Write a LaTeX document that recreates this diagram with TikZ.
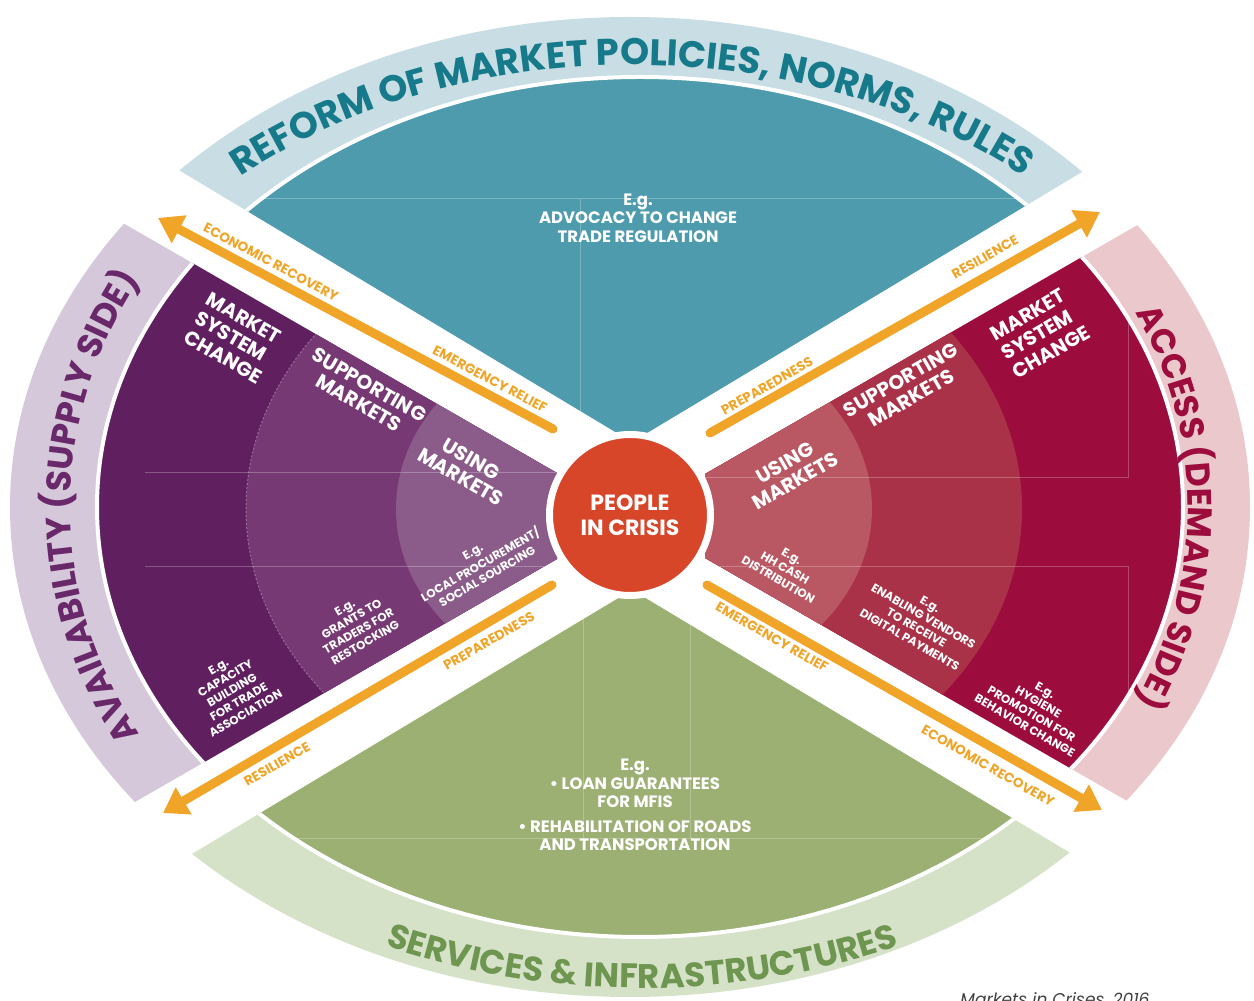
\documentclass[tikz,border=0pt]{standalone}
\usepackage{fontspec}
\setmainfont{Poppins}
\usetikzlibrary{arrows.meta,decorations.text}
\definecolor{tealreg}{HTML}{4D9BAC}
\definecolor{tealband}{HTML}{C8DDE4}
\definecolor{tealtxt}{HTML}{167A8A}
\definecolor{purA}{HTML}{602060}
\definecolor{purB}{HTML}{763973}
\definecolor{purC}{HTML}{8B5C8A}
\definecolor{purband}{HTML}{D6C8DB}
\definecolor{purtxt}{HTML}{692869}
\definecolor{redA}{HTML}{9C0C3C}
\definecolor{redB}{HTML}{AA3248}
\definecolor{redC}{HTML}{B95862}
\definecolor{redband}{HTML}{EAC8CC}
\definecolor{redtxt}{HTML}{9C0C3C}
\definecolor{grnreg}{HTML}{9CB074}
\definecolor{grnband}{HTML}{D6E2C8}
\definecolor{grntxt}{HTML}{6E9650}
\definecolor{orangec}{HTML}{F0A528}
\definecolor{crisis}{HTML}{D8462A}
\begin{document}
\begin{tikzpicture}[x=1pt,y=1pt,
  mainlab/.style={text=white,font=\bfseries\fontsize{20}{21}\selectfont,align=center,inner sep=0pt},
  msclab/.style={text=white,font=\bfseries\fontsize{20}{22}\selectfont,align=left,inner sep=0pt},
  eglab/.style={text=white,font=\bfseries\fontsize{11.8}{13.6}\selectfont,align=center,inner sep=0pt},
  arrlab/.style={text=orangec,font=\bfseries\fontsize{13.5}{14}\selectfont,inner sep=0pt},
  arr/.style={draw=orangec,line width=9pt,line cap=round,-{Triangle[width=30pt,length=24pt]}},
  guide/.style={draw=white,draw opacity=0.25,line width=1pt},
  ring/.style={draw=white,draw opacity=0.3,line width=1pt,dash pattern=on 2pt off 2pt},
  sep/.style={draw=white,line width=4pt},
  extext/.style={text=white,font=\bfseries\fontsize{16.5}{18.5}\selectfont,align=center,inner sep=0pt}]
\useasboundingbox (0,0) rectangle (1254,1001);
\clip (0,0) rectangle (1254,1001);
\fill[white] (0,0) rectangle (1254,1001);
\def\Einner{(640,494) ellipse [x radius=543, y radius=430]}
\def\Eband{(630,494) ellipse [x radius=620, y radius=490]}
% ---------- top (teal)
\begin{scope}
  \clip (632,559) -- (-168,1039) -- (1432,1039) -- cycle;
  \fill[tealband] \Eband;
  \begin{scope}
    \clip \Einner;
    \fill[tealreg] \Einner;
    \draw[guide] (200,802) -- (1080,802);
    \draw[guide] (580,802) -- (580,560);
  \end{scope}
  \draw[sep] \Einner;
\end{scope}
% ---------- left (purple)
\begin{scope}
  \clip (557,528) -- (-268,1003) -- (-268,-33) -- (557,442) -- cycle;
  \fill[purband] \Eband;
  \begin{scope}
    \clip \Einner;
    \fill[purA] \Einner;
    \fill[purB] (634,492) ellipse [x radius=388, y radius=306];
    \draw[ring] (634,492) ellipse [x radius=388, y radius=306];
    \fill[purC] (634,492) ellipse [x radius=238, y radius=188];
    \draw[guide] (145,528) -- (560,528);
    \draw[guide] (145,434) -- (560,434);
  \end{scope}
  \draw[sep] \Einner;
\end{scope}
% ---------- right (crimson)
\begin{scope}
  \clip (705,527) -- (1532,1003) -- (1532,-33) -- (705,443) -- cycle;
  \fill[redband] \Eband;
  \begin{scope}
    \clip \Einner;
    \fill[redA] \Einner;
    \fill[redB] (634,492) ellipse [x radius=388, y radius=306];
    \fill[redC] (634,492) ellipse [x radius=238, y radius=188];
    \draw[guide] (700,523) -- (1128,523) -- (1128,688);
    \draw[guide] (700,434) -- (1128,434) -- (1128,266);
  \end{scope}
  \draw[sep] \Einner;
\end{scope}
% ---------- bottom (green)
\begin{scope}
  \clip (632,411) -- (-168,-69) -- (1432,-69) -- cycle;
  \fill[grnband] \Eband;
  \begin{scope}
    \clip \Einner;
    \fill[grnreg] \Einner;
    \draw[guide] (200,162) -- (1080,162);
    \draw[guide] (583,162) -- (583,420);
    \draw[guide] (690,162) -- (690,420);
  \end{scope}
  \draw[sep] \Einner;
\end{scope}
% ---------- centre
\fill[white] (630,486) circle (84);
\node[circle,fill=crisis,draw=white,line width=2pt,minimum size=156pt,inner sep=0pt,
      text=white,font=\bfseries\fontsize{22}{25}\selectfont,align=center] (crisis) at (630,486) {PEOPLE\\IN CRISIS};
% ---------- band titles
\path[decorate,decoration={text along path,text align=center,
  text={|\fontsize{37}{37}\selectfont\bfseries\color{tealtxt}|REFORM OF MARKET POLICIES, NORMS, RULES}}]
  (632,494) ++(170:590 and 442) arc[start angle=170,end angle=10,x radius=590,y radius=442];
\path[decorate,decoration={text along path,text align=center,
  text={|\fontsize{34.5}{34.5}\selectfont\bfseries\color{purtxt}|AVAILABILITY (SUPPLY SIDE)}}]
  (632,494) ++(220:562 and 470) arc[start angle=220,end angle=140,x radius=562,y radius=470];
\path[decorate,decoration={text along path,text align=center,
  text={|\fontsize{34}{34}\selectfont\bfseries\color{redtxt}|ACCESS (DEMAND SIDE)}}]
  (632,494) ++(40:556 and 460) arc[start angle=40,end angle=-40,x radius=556,y radius=460];
\path[decorate,decoration={text along path,text align=center,
  text={|\fontsize{34}{34}\selectfont\bfseries\color{grntxt}|SERVICES {\&} INFRASTRUCTURES}}]
  (642,494) ++(200:626 and 481) arc[start angle=200,end angle=340,x radius=626,y radius=481];
% ---------- arrows
\coordinate (tlA) at (553,572); \coordinate (tlB) at (158,783);
\coordinate (trA) at (710,568); \coordinate (trB) at (1100,789);
\coordinate (blA) at (552,416); \coordinate (blB) at (163,188);
\coordinate (brA) at (707,416); \coordinate (brB) at (1102,191);
\draw[arr] (tlA) -- (tlB);
\draw[arr] (trA) -- (trB);
\draw[arr] (blA) -- (blB);
\draw[arr] (brA) -- (brB);
\node[arrlab,rotate=-28] (l1) at (271,739) {ECONOMIC RECOVERY};
\node[arrlab,rotate=-28] (l2) at (490,622) {EMERGENCY RELIEF};
\node[arrlab,rotate=29.5] (l3) at (767,615) {PREPAREDNESS};
\node[arrlab,rotate=29.5] (l4) at (985,744) {RESILIENCE};
\node[arrlab,rotate=30] (l5) at (489,360) {PREPAREDNESS};
\node[arrlab,rotate=30] (l6) at (277,237) {RESILIENCE};
\node[arrlab,rotate=-29.7] (l7) at (772,364) {EMERGENCY RELIEF};
\node[arrlab,rotate=-29.7] (l8) at (988,235) {ECONOMIC RECOVERY};
% ---------- labels left
\node[msclab,rotate=-30] (lmsc) at (234,663) {MARKET\\SYSTEM\\CHANGE};
\node[mainlab,rotate=-30] (lsup) at (364,607) {SUPPORTING\\MARKETS};
\node[mainlab,rotate=-30] (luse) at (466,533) {USING\\MARKETS};
\node[eglab,rotate=30] (leg1) at (480,437) {E.g.\\LOCAL PROCUREMENT/\\SOCIAL SOURCING};
\node[eglab,rotate=30] (leg2) at (355,376) {E.g.\\GRANTS TO\\TRADERS FOR\\RESTOCKING};
\node[eglab,rotate=30] (leg3) at (232,311) {E.g.\\CAPACITY\\BUILDING\\FOR TRADE\\ASSOCIATION};
% ---------- labels right
\node[msclab,rotate=30] (rmsc) at (1040,668) {MARKET\\SYSTEM\\CHANGE};
\node[mainlab,rotate=30] (rsup) at (906,612) {SUPPORTING\\MARKETS};
\node[mainlab,rotate=30] (ruse) at (790,529) {USING\\MARKETS};
\node[eglab,rotate=-30] (reg1) at (785,433) {E.g.\\HH CASH\\DISTRIBUTION};
\node[eglab,rotate=-30] (reg2) at (920,379) {E.g.\\ENABLING VENDORS\\TO RECEIVE\\DIGITAL PAYMENTS};
\node[eglab,rotate=-30] (reg3) at (1035,293) {E.g.\\HYGIENE\\PROMOTION FOR\\BEHAVIOR CHANGE};
% ---------- top / bottom examples
\node[extext] (teg) at (638,783) {E.g.\\ADVOCACY TO CHANGE\\TRADE REGULATION};
\node[extext] (geg) at (635,196)
  {E.g.\\• LOAN GUARANTEES\\FOR MFIS\\[6pt]• REHABILITATION OF ROADS\\AND TRANSPORTATION};
% ---------- source
\node[anchor=north,inner sep=0pt,text=black!75,font=\itshape\fontsize{17}{17}\selectfont] (src) at (1055,9) {Markets in Crises, 2016};
\end{tikzpicture}
\end{document}
